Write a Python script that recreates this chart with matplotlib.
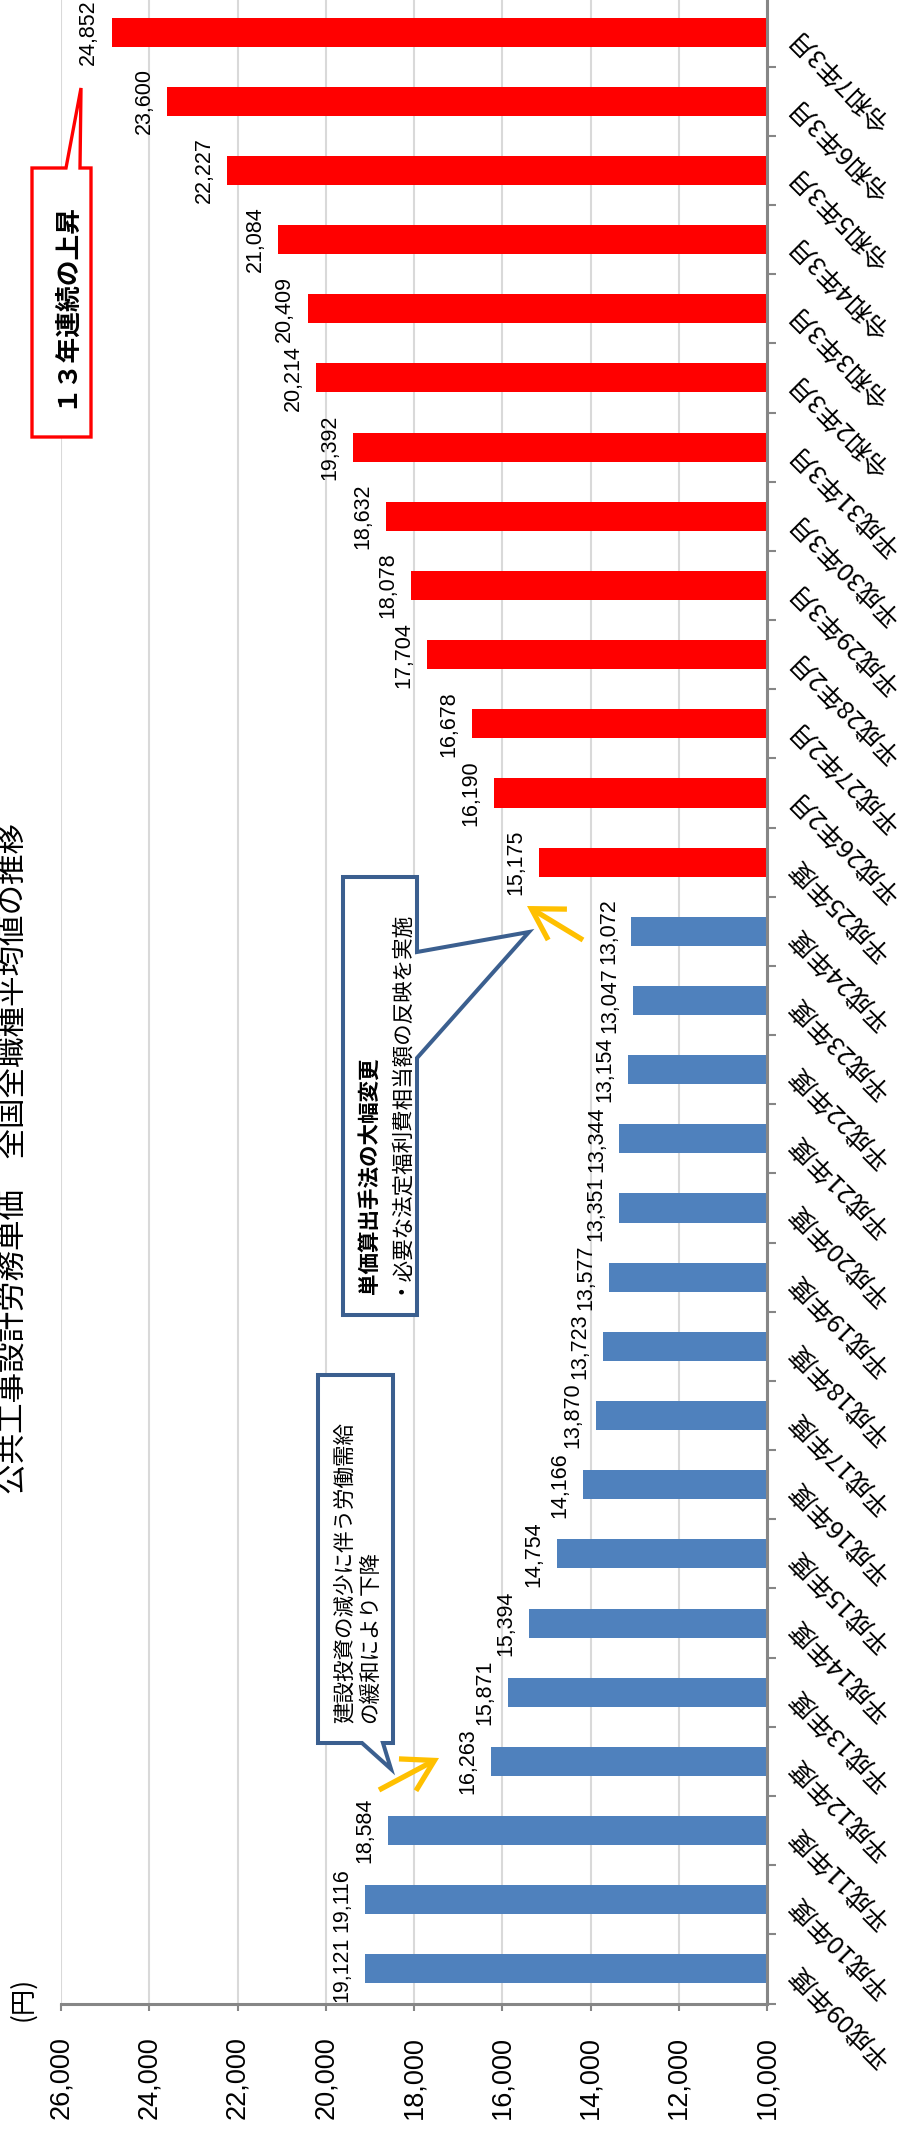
import matplotlib
matplotlib.use('Agg')
import matplotlib.pyplot as plt
from matplotlib.patches import Polygon, FancyArrowPatch

# ---------------- data ----------------
categories = ['平成09年度', '平成10年度', '平成11年度', '平成12年度', '平成13年度',
              '平成14年度', '平成15年度', '平成16年度', '平成17年度', '平成18年度',
              '平成19年度', '平成20年度', '平成21年度', '平成22年度', '平成23年度',
              '平成24年度', '平成25年度', '平成26年2月', '平成27年2月', '平成28年2月',
              '平成29年3月', '平成30年3月', '平成31年3月', '令和2年3月', '令和3年3月',
              '令和4年3月', '令和5年3月', '令和6年3月', '令和7年3月']
values = [19121, 19116, 18584, 16263, 15871, 15394, 14754, 14166, 13870, 13723,
          13577, 13351, 13344, 13154, 13047, 13072, 15175, 16190, 16678, 17704,
          18078, 18632, 19392, 20214, 20409, 21084, 22227, 23600, 24852]
n_blue = 16
value_ticks = [10000, 12000, 14000, 16000, 18000, 20000, 22000, 24000, 26000]
title = '公共工事設計労務単価　全国全職種平均値の推移'
unit_label = '(円)'
note_red = '１３年連続の上昇'
note_blue1 = ['建設投資の減少に伴う労働需給', 'の緩和により下降']
note_blue2 = ['単価算出手法の大幅変更', '・必要な法定福利費相当額の反映を実施']

BLUE = '#4F81BD'
RED = '#FF0000'
AXIS = '#868686'
GRID = '#D9D9D9'
BOXBLUE = '#3B5F8F'
ARROW = '#FFC000'

JP = ['Noto Sans CJK JP', 'DejaVu Sans']
plt.rcParams['font.family'] = ['Liberation Sans', 'Noto Sans CJK JP', 'DejaVu Sans']

W, H = 907, 2132
fig = plt.figure(figsize=(W / 100, H / 100), dpi=100)


def fp(x, y):
    return (x / W, 1 - y / H)


# plot area in pixels
x_left, x_right = 61, 767
y_top, y_bot = -2.5, 2003.5
ax = fig.add_axes([x_left / W, 1 - y_bot / H, (x_right - x_left) / W, (y_bot - y_top) / H])

colors = [BLUE] * n_blue + [RED] * (len(values) - n_blue)
ypos = list(range(len(categories)))
ax.barh(ypos, values, height=0.42, color=colors, zorder=2)

ax.set_xlim(26000, 10000)
ax.set_ylim(-0.5, len(categories) - 0.5)

# value axis
ax.set_xticks(value_ticks)
ax.set_xticklabels([f'{v:,}' for v in value_ticks], rotation=90, ha='center', va='top',
                   fontsize=19.5)
ax.tick_params(axis='x', direction='out', length=5, width=1.5, color=AXIS, pad=18.5)
ax.grid(axis='x', color=GRID, lw=1.5, zorder=0)
ax.set_axisbelow(True)

# category axis on the right
ax.yaxis.tick_right()
ax.set_yticks([i - 0.5 for i in range(len(categories) + 1)])
ax.set_yticklabels([])
ax.set_yticks(ypos, minor=True)
ax.set_yticklabels(categories, minor=True)
ax.tick_params(axis='y', which='major', direction='out', length=6.5, width=1.5, color=AXIS,
               left=False, right=True, labelleft=False, labelright=False)
ax.tick_params(axis='y', which='minor', length=0, left=False, right=False,
               labelleft=False, labelright=True, pad=19)
for t in ax.yaxis.get_minor_ticks():
    lab = t.label2
    lab.set_rotation(135)
    lab.set_rotation_mode('anchor')
    lab.set_ha('right')
    lab.set_va('center')
    lab.set_fontsize(18.5)
    lab.set_family(JP)

for s in ['top', 'left']:
    ax.spines[s].set_visible(False)
for s in ['bottom', 'right']:
    ax.spines[s].set_color(AXIS)
    ax.spines[s].set_linewidth(2.2)

# data labels
for i, v in enumerate(values):
    ax.annotate(f'{v:,}', xy=(v, i), xytext=(-9, 0), textcoords='offset points',
                rotation=90, ha='right', va='center', fontsize=15.5, zorder=3)

# title and unit
fig.text(*fp(14, 1158), title, rotation=90, ha='center', va='center', fontsize=22,
         family=JP)
fig.text(*fp(23, 1999), unit_label, rotation=90, ha='center', va='center', fontsize=19,
         family=JP)

# callouts (pixel outlines -> figure coords)
red_box = [(32, 168), (66, 168), (81, 88), (80, 168), (91, 168), (91, 437), (32, 437)]
fig.patches.append(Polygon([fp(*p) for p in red_box], closed=True, transform=fig.transFigure,
                           facecolor='white', edgecolor=RED, lw=2.4, joinstyle='miter',
                           zorder=5))
fig.text(*fp(65, 305), note_red, rotation=90, ha='center', va='center', fontsize=18.5,
         fontweight='bold', family=JP, zorder=6)

box2 = [(343, 877), (417, 877), (417, 952), (529, 932), (417, 1058), (417, 1315), (343, 1315)]
fig.patches.append(Polygon([fp(*p) for p in box2], closed=True, transform=fig.transFigure,
                           facecolor='white', edgecolor=BOXBLUE, lw=2.9, joinstyle='miter',
                           zorder=5))
fig.text(*fp(369, 1294), note_blue2[0], rotation=90, ha='center', va='bottom', fontsize=15.5,
         fontweight='bold', family=JP, zorder=6)
fig.text(*fp(396, 1294), note_blue2[1], rotation=90, ha='center', va='bottom', fontsize=15.5,
         family=JP, zorder=6)

box1 = [(318, 1375), (393, 1375), (393, 1743), (383, 1743), (391, 1769), (362, 1743), (318, 1743)]
fig.patches.append(Polygon([fp(*p) for p in box1], closed=True, transform=fig.transFigure,
                           facecolor='white', edgecolor=BOXBLUE, lw=2.9, joinstyle='miter',
                           zorder=5))
fig.text(*fp(345, 1723), note_blue1[0], rotation=90, ha='center', va='bottom', fontsize=15.5,
         family=JP, zorder=6)
fig.text(*fp(370, 1723), note_blue1[1], rotation=90, ha='center', va='bottom', fontsize=15.5,
         family=JP, zorder=6)

# yellow arrows
for tail, tip in [((583, 940), (527, 906)), ((379, 1790), (439, 1758))]:
    arr = FancyArrowPatch(fp(*tail), fp(*tip), transform=fig.transFigure,
                          arrowstyle='->,head_length=22,head_width=13', mutation_scale=1,
                          lw=3.8, color=ARROW, shrinkA=0, shrinkB=0, capstyle='butt',
                          joinstyle='miter', zorder=7)
    fig.patches.append(arr)

fig.savefig('out.png', dpi=100, facecolor='white')
